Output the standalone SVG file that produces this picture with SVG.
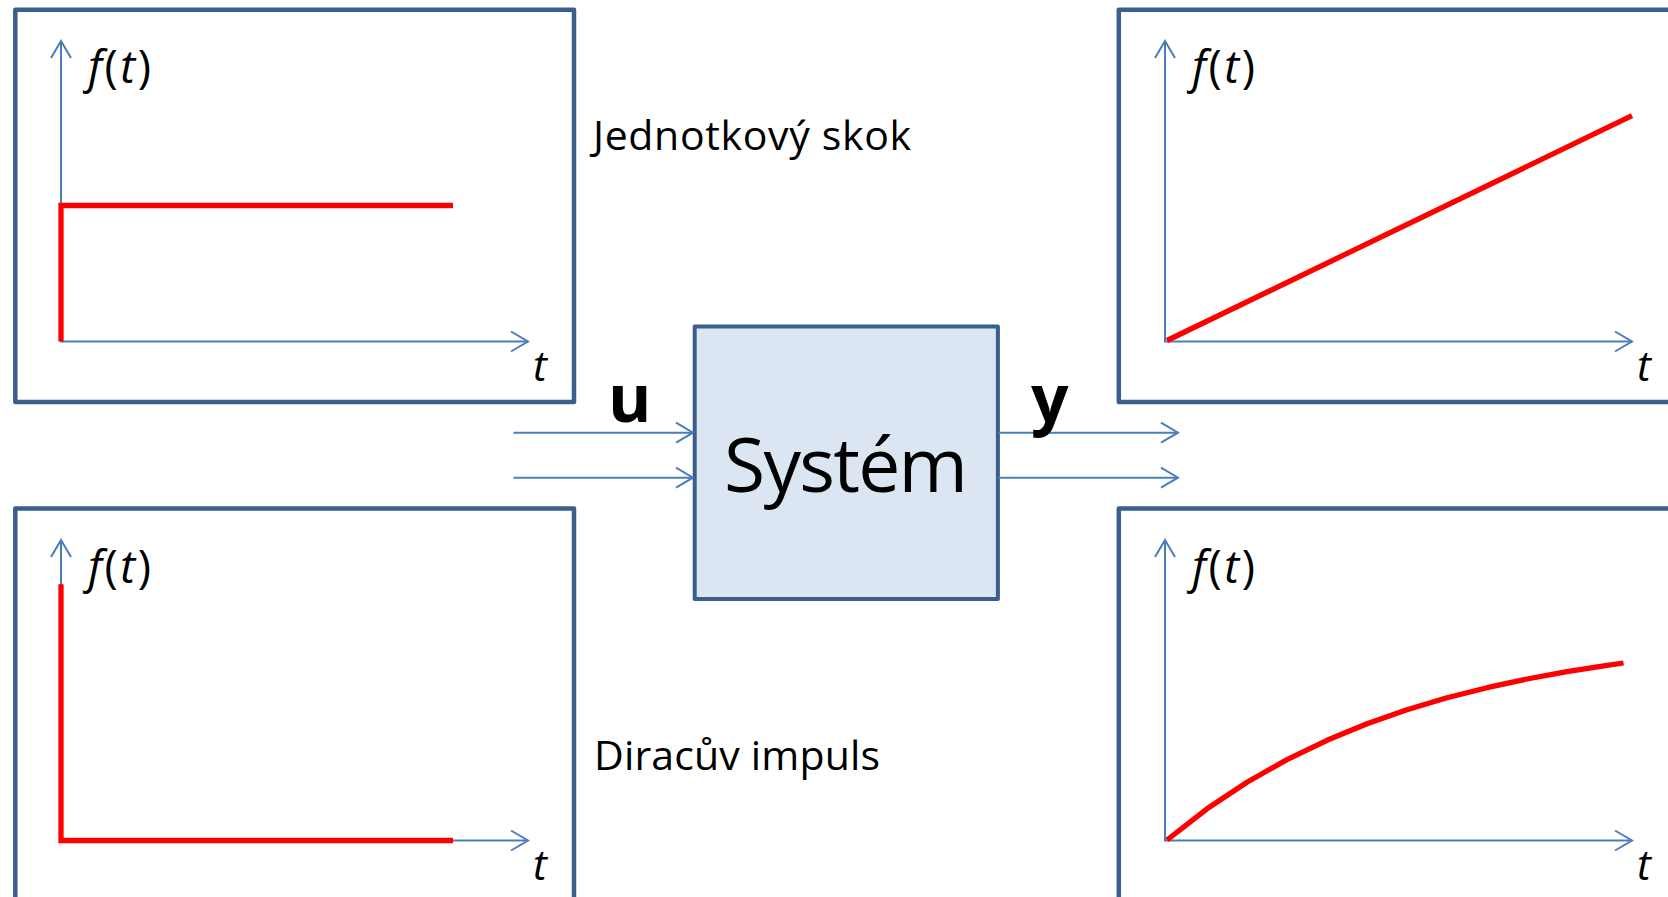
<svg xmlns="http://www.w3.org/2000/svg" width="1668" height="897" viewBox="0 0 1668 897">
  <style>
    .frame { fill: #FFFFFF; stroke: #3B5E8C; stroke-width: 4.5; stroke-linejoin: round; }
    .axis { fill: none; stroke: #4A7EBB; stroke-width: 2; }
    .sig { fill: none; stroke: #FF0000; stroke-width: 5.3; stroke-linejoin: miter; stroke-linecap: butt; }
    .lbl { font-family: "Open Sans", "Liberation Sans", sans-serif; fill: #000000; }
    .ft { font-size: 45px; }
    .it { font-style: italic; }
    .tl { font-size: 42px; font-style: italic; }
    .cap { font-size: 41px; }
    .io { font-size: 66px; font-weight: bold; }
    .sys { fill: #DCE6F2; stroke: #3B5E8C; stroke-width: 4; stroke-linejoin: round; }
    .conn { fill: none; stroke: #4A7EBB; stroke-width: 2; }
  </style>
  <defs>
    <marker id="chev" viewBox="-19 -11 21 22" refX="0" refY="0" markerWidth="21" markerHeight="22" markerUnits="userSpaceOnUse" orient="auto" overflow="visible">
      <path d="M-17,-10 L0,0 L-17,10" fill="none" stroke="#4A7EBB" stroke-width="2"/>
    </marker>
  </defs>
  <rect width="1668" height="897" fill="#FFFFFF"/>

  <g id="panel-step">
    <rect class="frame" x="15.3" y="9.7" width="558.7" height="392.3"/>
    <line class="axis" x1="61" y1="342" x2="61" y2="41" marker-end="url(#chev)"/>
    <line class="axis" x1="60" y1="341.5" x2="528" y2="341.5" marker-end="url(#chev)"/>
    <path class="sig" d="M61,341.5 V205.5 H453"/>
    <text class="lbl ft" x="88" y="83" textLength="63"><tspan class="it">f</tspan>(<tspan class="it">t</tspan>)</text>
    <text class="lbl tl" x="533" y="381">t</text>
  </g>

  <g id="label-step">
    <text class="lbl cap" x="593" y="150" textLength="318">Jednotkový skok</text>
  </g>

  <g id="panel-impulse">
    <rect class="frame" x="15.3" y="508.5" width="558.7" height="460"/>
    <line class="axis" x1="61" y1="841" x2="61" y2="540" marker-end="url(#chev)"/>
    <line class="axis" x1="60" y1="840.5" x2="528" y2="840.5" marker-end="url(#chev)"/>
    <path class="sig" d="M61,584.3 V840.5 H453"/>
    <text class="lbl ft" x="88" y="582.5" textLength="63"><tspan class="it">f</tspan>(<tspan class="it">t</tspan>)</text>
    <text class="lbl tl" x="533" y="880">t</text>
  </g>

  <g id="label-impulse">
    <text class="lbl cap" x="594" y="770" textLength="286">Diracův impuls</text>
  </g>

  <g id="panel-ramp">
    <rect class="frame" x="1118.8" y="9.7" width="600" height="392.3"/>
    <line class="axis" x1="1165" y1="342" x2="1165" y2="41" marker-end="url(#chev)"/>
    <line class="axis" x1="1164" y1="341.5" x2="1632" y2="341.5" marker-end="url(#chev)"/>
    <line class="sig" x1="1167" y1="340.5" x2="1632" y2="115.7"/>
    <text class="lbl ft" x="1192" y="83" textLength="63"><tspan class="it">f</tspan>(<tspan class="it">t</tspan>)</text>
    <text class="lbl tl" x="1637" y="381">t</text>
  </g>

  <g id="panel-exp">
    <rect class="frame" x="1118.8" y="508.5" width="600" height="460"/>
    <line class="axis" x1="1165" y1="841" x2="1165" y2="540" marker-end="url(#chev)"/>
    <line class="axis" x1="1164" y1="840.5" x2="1632" y2="840.5" marker-end="url(#chev)"/>
    <polyline class="sig" style="stroke-linejoin:round" points="1167,840 1207,808.8 1247,782.2 1287,759.6 1327,740.3 1367,723.8 1407,709.8 1447,697.8 1487,687.7 1527,679 1567,671.6 1607,665.3 1623.5,663"/>
    <text class="lbl ft" x="1192" y="582.5" textLength="63"><tspan class="it">f</tspan>(<tspan class="it">t</tspan>)</text>
    <text class="lbl tl" x="1637" y="880">t</text>
  </g>

  <g id="system">
    <rect class="sys" x="694.7" y="326.6" width="303.2" height="272.4"/>
    <text class="lbl" x="846" y="491.5" font-size="75" text-anchor="middle" textLength="244">Systém</text>
  </g>

  <g id="connectors">
    <line class="conn" x1="513.5" y1="432.7" x2="693" y2="432.7" marker-end="url(#chev)"/>
    <line class="conn" x1="513.5" y1="477.7" x2="693" y2="477.7" marker-end="url(#chev)"/>
    <line class="conn" x1="998" y1="432.7" x2="1178" y2="432.7" marker-end="url(#chev)"/>
    <line class="conn" x1="998" y1="477.7" x2="1178" y2="477.7" marker-end="url(#chev)"/>
    <text class="lbl io" x="608" y="421.5">u</text>
    <text class="lbl io" x="1031" y="421.5">y</text>
  </g>
</svg>
